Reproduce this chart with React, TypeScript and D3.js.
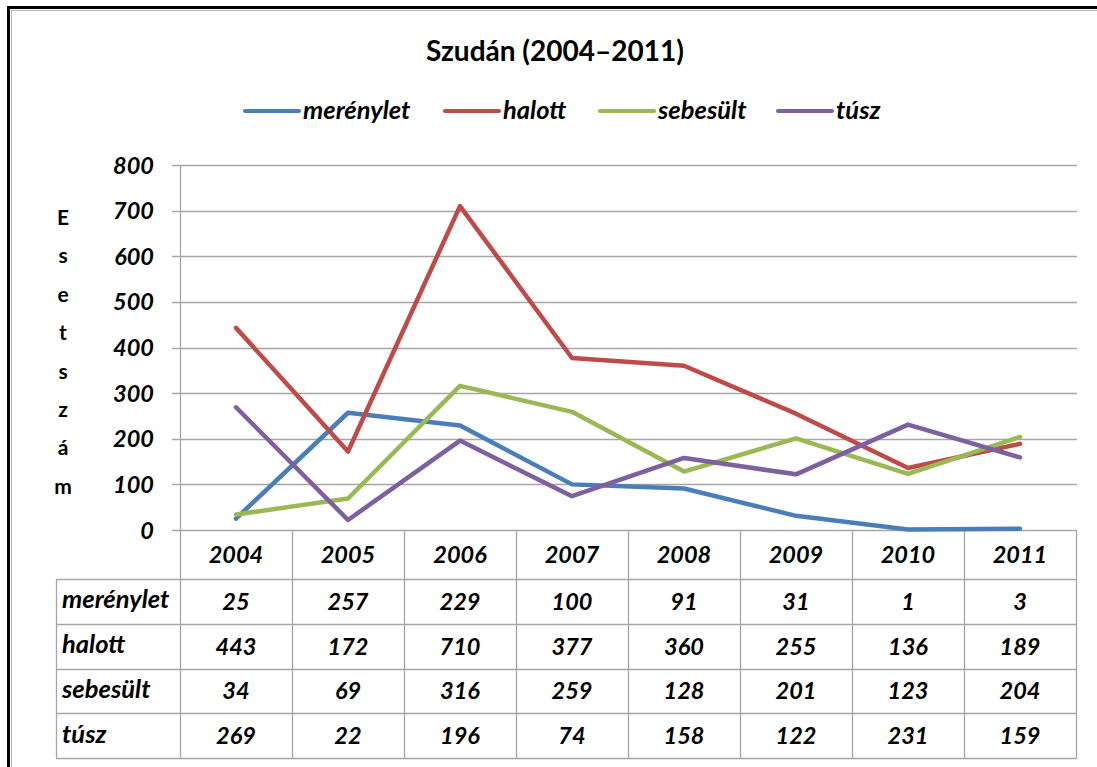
import React from "react";
import * as d3 from "d3";

const years = ["2004", "2005", "2006", "2007", "2008", "2009", "2010", "2011"];
const merenylet = [25, 257, 229, 100, 91, 31, 1, 3];
const halott = [443, 172, 710, 377, 360, 255, 136, 189];
const sebesult = [34, 69, 316, 259, 128, 201, 123, 204];
const tusz = [269, 22, 196, 74, 158, 122, 231, 159];
const seriesNames = ["merénylet", "halott", "sebesült", "túsz"];
const seriesColors = ["#4A7EBB", "#BE4B48", "#98B954", "#7D60A0"];
const yTicks = [0, 100, 200, 300, 400, 500, 600, 700, 800];
const axisLetters = ["E", "s", "e", "t", "s", "z", "á", "m"];
const title = "Szudán (2004–2011)";

const W = 1097;
const H = 767;
const FONT = "Lato, 'Open Sans', sans-serif";
const WORD_SIZE = 25.5;
const NUM_SIZE = 23.5;

export default function App() {
  const series = [merenylet, halott, sebesult, tusz];
  const x = d3.scaleBand<string>().domain(years).range([180, 1076]);
  const y = d3.scaleLinear().domain([0, 800]).range([530, 165]);
  const line = d3
    .line<number>()
    .x((_, i) => (x(years[i]) as number) + x.bandwidth() / 2)
    .y((d) => y(d));

  const rowTop = 579;
  const rowH = (758 - 579) / 4;
  const gridColor = "#a6a6a6";
  const legendX = [245, 445, 600, 778];

  return (
    <svg
      width={W}
      height={H}
      style={{ position: "absolute", left: 0, top: 0, background: "#fff" }}
    >
      <rect x={0} y={0} width={W} height={H} fill="#fff" />
      {/* frame */}
      <line x1={7} y1={7.5} x2={W} y2={7.5} stroke="#000" strokeWidth={3} />
      <line x1={8.5} y1={6} x2={8.5} y2={H} stroke="#000" strokeWidth={3} />
      <line x1={11} y1={10.5} x2={W} y2={10.5} stroke="#bbb" strokeWidth={1} />
      <line x1={11.5} y1={10} x2={11.5} y2={H} stroke="#bbb" strokeWidth={1} />

      {/* title */}
      <text
        x={555}
        y={61}
        textAnchor="middle"
        fontFamily={FONT}
        fontWeight="bold"
        fontSize={28}
        fill="#000"
      >
        {title}
      </text>

      {/* legend */}
      {seriesNames.map((n, i) => (
        <g key={n}>
          <line
            x1={legendX[i]}
            x2={legendX[i] + 54}
            y1={111}
            y2={111}
            stroke={seriesColors[i]}
            strokeWidth={4}
            strokeLinecap="round"
          />
          <text
            x={legendX[i] + 58}
            y={119}
            fontFamily={FONT}
            fontWeight="bold"
            fontStyle="italic"
            fontSize={WORD_SIZE}
            fill="#000"
          >
            {n}
          </text>
        </g>
      ))}

      {/* gridlines and y ticks */}
      {yTicks.map((t) => (
        <g key={t}>
          <line
            x1={172}
            x2={1077}
            y1={Math.round(y(t)) + 0.5}
            y2={Math.round(y(t)) + 0.5}
            stroke={gridColor}
            strokeWidth={1.3}
          />
          <text
            x={154}
            y={y(t) + 8.5}
            textAnchor="end"
            fontFamily={FONT}
            fontWeight="bold"
            fontStyle="italic"
            fontSize={NUM_SIZE}
            fill="#000"
          >
            {t}
          </text>
        </g>
      ))}
      <line x1={180.5} x2={180.5} y1={165} y2={758} stroke={gridColor} strokeWidth={1.3} />

      {/* y axis title */}
      {axisLetters.map((c, i) => (
        <text
          key={i}
          x={63}
          y={225 + i * 38.4}
          textAnchor="middle"
          fontFamily={FONT}
          fontWeight="bold"
          fontSize={21}
          fill="#000"
        >
          {c}
        </text>
      ))}

      {/* table */}
      {years.map((yr) => {
        const bx = (x(yr) as number) + x.bandwidth();
        return (
          <line
            key={yr}
            x1={Math.round(bx) + 0.5}
            x2={Math.round(bx) + 0.5}
            y1={530}
            y2={758}
            stroke={gridColor}
            strokeWidth={1.3}
          />
        );
      })}
      {[0, 1, 2, 3, 4].map((r) => (
        <line
          key={r}
          x1={56}
          x2={1077}
          y1={Math.round(rowTop + r * rowH) + 0.5}
          y2={Math.round(rowTop + r * rowH) + 0.5}
          stroke={gridColor}
          strokeWidth={1.3}
        />
      ))}
      <line x1={56.5} x2={56.5} y1={579} y2={758} stroke={gridColor} strokeWidth={1.3} />
      {years.map((yr) => (
        <text
          key={yr}
          x={(x(yr) as number) + x.bandwidth() / 2}
          y={563}
          textAnchor="middle"
          fontFamily={FONT}
          fontWeight="bold"
          fontStyle="italic"
          fontSize={NUM_SIZE}
          fill="#000"
        >
          {yr}
        </text>
      ))}
      {series.map((s, r) => (
        <g key={r}>
          <text
            x={62}
            y={rowTop + r * rowH + rowH / 2 + 7}
            fontFamily={FONT}
            fontWeight="bold"
            fontStyle="italic"
            fontSize={WORD_SIZE}
            fill="#000"
          >
            {seriesNames[r]}
          </text>
          {s.map((v, i) => (
            <text
              key={i}
              x={(x(years[i]) as number) + x.bandwidth() / 2}
              y={rowTop + r * rowH + rowH / 2 + 8.5}
              textAnchor="middle"
              fontFamily={FONT}
              fontWeight="bold"
              fontStyle="italic"
              fontSize={NUM_SIZE}
              fill="#000"
            >
              {v}
            </text>
          ))}
        </g>
      ))}

      {/* lines */}
      {series.map((s, i) => (
        <path
          key={i}
          d={line(s) || ""}
          fill="none"
          stroke={seriesColors[i]}
          strokeWidth={4.5}
          strokeLinejoin="round"
          strokeLinecap="round"
        />
      ))}
    </svg>
  );
}
